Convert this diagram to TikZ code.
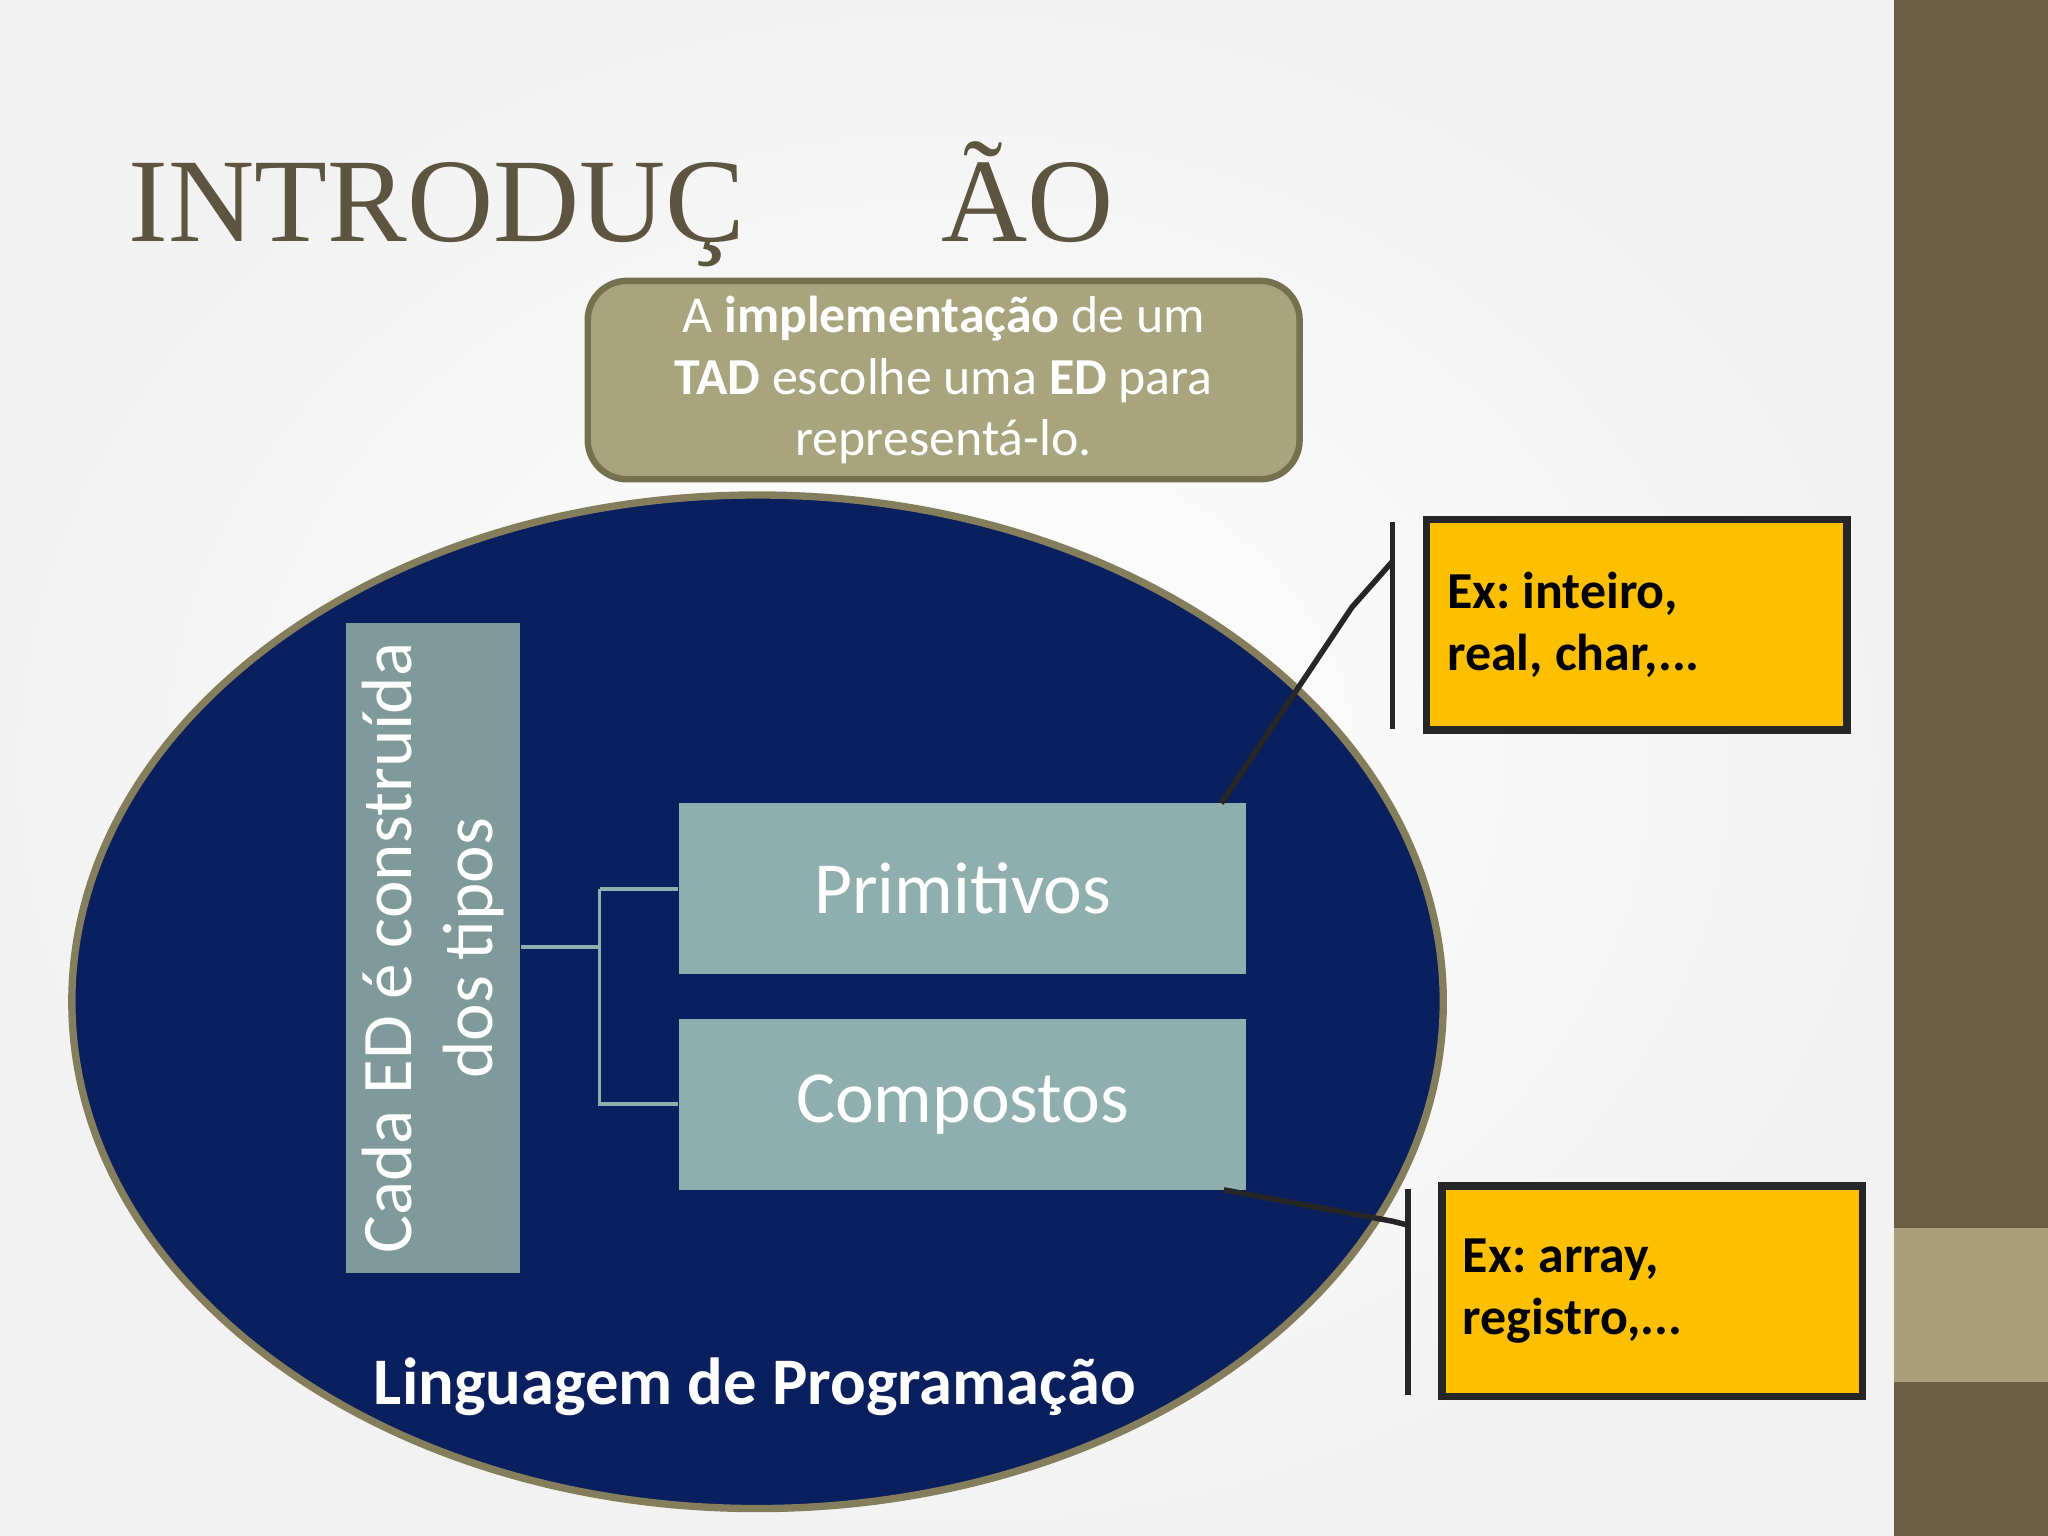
\documentclass[tikz,border=0pt]{standalone}
\usepackage{fontspec}
\setmainfont{Carlito}
\newfontfamily\titlefont{Liberation Serif}
\usetikzlibrary{shapes.geometric}
\frenchspacing
\definecolor{navy}{HTML}{0A1F5E}
\definecolor{rim}{HTML}{857E5C}
\definecolor{olive}{HTML}{A8A47E}
\definecolor{oliveb}{HTML}{75704E}
\definecolor{tealbox}{HTML}{8FAEAE}
\definecolor{tealdark}{HTML}{7F9A9A}
\definecolor{gold}{HTML}{FCC000}
\definecolor{brownbar}{HTML}{6B5E45}
\definecolor{tan}{HTML}{A8A07A}
\definecolor{titlecol}{HTML}{5E5540}
\tikzset{
  tbox/.style={fill=tealbox, minimum width=4.34cm, minimum height=1.31cm, text=white, font=\fontsize{16}{19}\selectfont},
  ybox/.style={fill=gold, draw=black!85, line width=1.6pt, minimum width=3.22cm, minimum height=1.61cm, text width=2.9cm, align=left, font=\bfseries\fontsize{11.3}{13.4}\selectfont},
  call/.style={draw=black!85, line width=1.2pt},
  link/.style={draw=tealbox, line width=0.8pt}
}
\begin{document}
\begin{tikzpicture}[x=1cm,y=1cm]
\useasboundingbox (0,0) rectangle (15.68,11.76);
\shade[inner color=white, outer color=black!5] (0,0) rectangle (14.5,11.76);
\fill[brownbar] (14.5,0) rectangle (15.68,11.76);
\fill[tan] (14.5,11.76-10.58) rectangle (15.68,11.76-9.40);
\node[anchor=base west, text=titlecol, inner sep=0, font=\titlefont\fontsize{26}{30}\selectfont] (title) at (0.98,11.76-1.85) {INTRODUÇ\hspace{1.5cm}ÃO};
\node[draw=oliveb, line width=1.4pt, fill=olive, rounded corners=0.3cm, minimum width=5.45cm, minimum height=1.48cm, text=white, align=center, font=\fontsize{11.3}{13.4}\selectfont] (top) at (7.225,11.76-2.91) {A \textbf{implementação} de um\\\textbf{TAD} escolhe uma \textbf{ED} para\\representá-lo.};
\node[ellipse, fill=navy, draw=rim, line width=1.6pt, minimum width=10.5cm, minimum height=7.76cm] (ell) at (5.8,11.76-7.67) {};
\node[fill=tealdark, minimum width=1.33cm, minimum height=4.98cm] (vbox) at (3.315,11.76-7.26) {};
\node[rotate=90, text=white, align=center, font=\fontsize{15.5}{17.5}\selectfont] (vtext) at (3.315,11.76-7.26) {Cada ED é construída\\dos tipos};
\node[tbox] (prim) at (7.37,11.76-6.805) {Primitivos};
\node[tbox] (comp) at (7.37,11.76-8.455) {Compostos};
\coordinate (j) at (4.59,11.76-7.25);
\draw[link] (vbox.east |- j) -- (j) (j |- prim.west) -- (prim.west) (j |- prim.west) -- (j |- comp.west) -- (comp.west);
\node[text=white, font=\bfseries\fontsize{14.5}{17}\selectfont] (ling) at (5.78,11.76-10.62) {Linguagem de Programação};
\node[ybox] (y1) at (12.53,11.76-4.785) {Ex:\hspace{-0.1em} inteiro,\\real,\hspace{-0.1em} char,...};
\node[ybox] (y2) at (12.65,11.76-9.885) {Ex:\hspace{-0.1em} array,\\registro,...};
\coordinate (b1t) at (10.66,11.76-4.00);
\coordinate (b1b) at (10.66,11.76-5.58);
\coordinate (b1m) at (10.66,11.76-4.30);
\coordinate (k1) at (10.35,11.76-4.65);
\coordinate (p1) at (9.35,11.76-6.15);
\draw[call] (b1t) -- (b1b);
\draw[call] (p1) -- (k1) -- (b1m);
\coordinate (b2t) at (10.78,11.76-9.10);
\coordinate (b2b) at (10.78,11.76-10.68);
\coordinate (b2m) at (10.78,11.76-9.38);
\coordinate (k2) at (10.66,11.76-9.35);
\coordinate (p2) at (9.37,11.76-9.11);
\draw[call] (b2t) -- (b2b);
\draw[call] (p2) -- (k2) -- (b2m);
\end{tikzpicture}
\end{document}
